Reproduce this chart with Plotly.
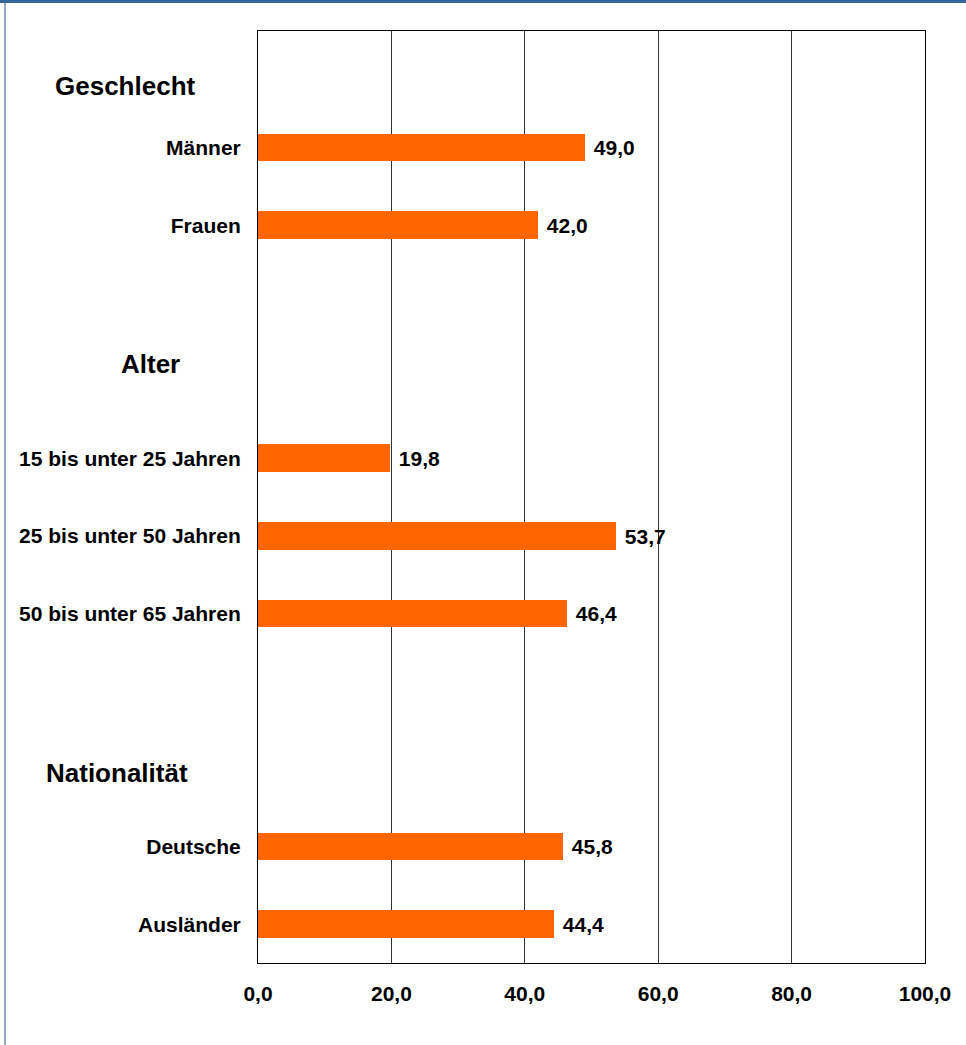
import plotly.graph_objects as go

# ---- data ----
categories = ["Männer", "Frauen",
              "15 bis unter 25 Jahren", "25 bis unter 50 Jahren", "50 bis unter 65 Jahren",
              "Deutsche", "Ausländer"]
values = [49.0, 42.0, 19.8, 53.7, 46.4, 45.8, 44.4]
group_titles = ["Geschlecht", "Alter", "Nationalität"]
x_ticks = [0, 20, 40, 60, 80, 100]
x_tick_labels = ["0,0", "20,0", "40,0", "60,0", "80,0", "100,0"]

# ---- layout (row slots on the category axis) ----
rows = [0, 1, 4, 5, 6, 9, 10]

W, H = 966, 1045
L, R, T, B = 258, 925, 31, 963
pw, ph = R - L, B - T

def px_x(px):
    return (px - L) / pw

def px_y(py):
    return (B - py) / ph

FONT = "Liberation Sans, Arial, Helvetica, sans-serif"
ORANGE = "#FF6600"

fig = go.Figure()
fig.add_trace(go.Bar(
    x=values,
    y=rows,
    orientation="h",
    width=0.36,
    marker=dict(color=ORANGE, line=dict(width=0)),
    text=["\u00a0" + f"{v:.1f}".replace(".", ",") for v in values],
    textposition="outside",
    constraintext="none",
    cliponaxis=False,
    textfont=dict(family=FONT, size=21, color="black", weight="bold"),
    hoverinfo="skip",
))

fig.update_layout(
    width=W, height=H,
    margin=dict(l=L, r=W - R, t=T, b=H - B, pad=0),
    paper_bgcolor="white",
    plot_bgcolor="white",
    showlegend=False,
    bargap=0,
    xaxis=dict(
        range=[0, 100],
        tickvals=x_ticks,
        ticktext=x_tick_labels,
        showgrid=True,
        gridcolor="#333333",
        gridwidth=1,
        zeroline=False,
        showline=True,
        linecolor="black",
        linewidth=1,
        mirror=True,
        ticks="",
        ticklabelstandoff=12,
        tickfont=dict(family=FONT, size=21, color="black", weight="bold"),
        fixedrange=True,
    ),
    yaxis=dict(
        range=[10.5, -1.5],
        tickvals=rows,
        ticktext=categories,
        showgrid=False,
        zeroline=False,
        showline=True,
        linecolor="black",
        linewidth=1,
        mirror=True,
        ticks="",
        ticklabelstandoff=12,
        tickfont=dict(family=FONT, size=21, color="black", weight="bold"),
        fixedrange=True,
    ),
)

# group headers
header_pos = [(125, 86), (150, 364), (117, 773)]
for title, (cx, cy) in zip(group_titles, header_pos):
    fig.add_annotation(
        x=px_x(cx), y=px_y(cy), xref="paper", yref="paper",
        text=title, showarrow=False, xanchor="center", yanchor="middle",
        font=dict(family=FONT, size=26, color="black", weight="bold"),
    )

# frame decorations: top blue bar and left border line
fig.add_shape(type="rect", xref="paper", yref="paper",
              x0=px_x(0), x1=px_x(W), y0=px_y(3), y1=px_y(0),
              fillcolor="#336699", line=dict(width=0), layer="above")
fig.add_shape(type="line", xref="paper", yref="paper",
              x0=px_x(5), x1=px_x(5), y0=px_y(H), y1=px_y(3),
              line=dict(color="#7090B8", width=1.5), layer="above")

fig.write_html(
    "out.html",
    config={"displayModeBar": False},
    post_script="document.body.style.margin='0';document.body.style.overflow='hidden';",
)
